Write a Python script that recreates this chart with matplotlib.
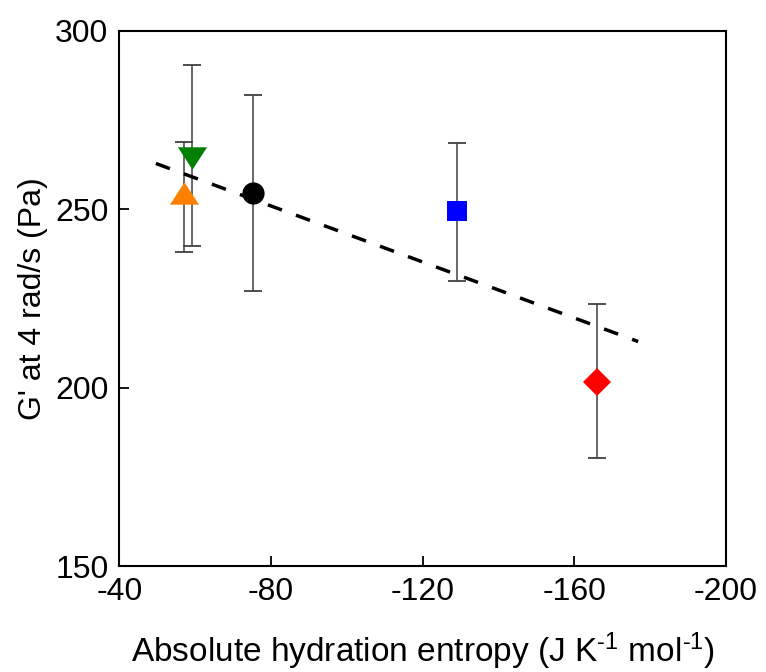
import matplotlib
matplotlib.use('Agg')
import matplotlib.pyplot as plt

plt.rcParams['font.family'] = ['Liberation Sans', 'DejaVu Sans']
plt.rcParams['mathtext.fontset'] = 'custom'
plt.rcParams['mathtext.rm'] = 'Liberation Sans'
plt.rcParams['mathtext.it'] = 'Liberation Sans:italic'
plt.rcParams['axes.unicode_minus'] = False

# Data
entropy = [-57.0, -59.1, -75.2, -129.0, -165.9]
modulus = [254.4, 264.2, 254.5, 249.4, 201.7]
err_low = [238.1, 239.7, 227.0, 230.0, 180.2]
err_high = [268.9, 290.5, 282.0, 268.5, 223.5]
colors = ['#ff8000', '#008000', '#000000', '#0000ff', '#ff0000']
markers = ['tri_up', 'tri_down', 'o', 's', 'D']

# dashed trend line end points
fit_x = [-49.6, -176.9]
fit_y = [262.8, 212.9]

x_ticks = [-40, -80, -120, -160, -200]
y_ticks = [150, 200, 250, 300]

# wide triangles (wider than tall, like the reference)
shapes = {
    'tri_up': [(-1.3, -1.0), (1.3, -1.0), (0.0, 1.0), (-1.3, -1.0)],
    'tri_down': [(-1.3, 1.0), (1.3, 1.0), (0.0, -1.0), (-1.3, 1.0)],
}
sizes = {'tri_up': 21, 'tri_down': 21, 'o': 16, 's': 14.5, 'D': 14.5}

fig = plt.figure(figsize=(7.66, 6.72), dpi=100)
ax = fig.add_axes([0.156, 0.1577, 0.7914, 0.7966])

# trend line
ax.plot(fit_x, fit_y, color='black', lw=2.5, dashes=(4.3, 4.3), zorder=2)

# points with error bars
for x, y, lo, hi, c, m in zip(entropy, modulus, err_low, err_high, colors, markers):
    ax.errorbar([x], [y], yerr=[[y - lo], [hi - y]], fmt='none',
                ecolor='#404040', elinewidth=1.1, capsize=6.5, capthick=1.3, zorder=1)
    mk = shapes.get(m, m)
    ax.plot([x], [y], linestyle='none', marker=mk, markersize=sizes[m],
            color=c, markeredgewidth=0, zorder=3)

ax.set_xlim(-40, -200)
ax.set_ylim(150, 300)
ax.set_xticks(x_ticks)
ax.set_yticks(y_ticks)

for s in ax.spines.values():
    s.set_linewidth(1.5)

ax.tick_params(direction='in', length=7, width=1.3, labelsize=23, pad=8,
               top=False, right=False)

ax.set_xlabel(r'Absolute hydration entropy (J K$^{\text{-}1}$ mol$^{\text{-}1}$)', fontsize=24)
ax.xaxis.set_label_coords(0.5, -0.12)
ax.set_ylabel("G' at 4 rad/s (Pa)", fontsize=23)
ax.yaxis.set_label_coords(-0.118, 0.5)

fig.savefig('out.png', dpi=100)
